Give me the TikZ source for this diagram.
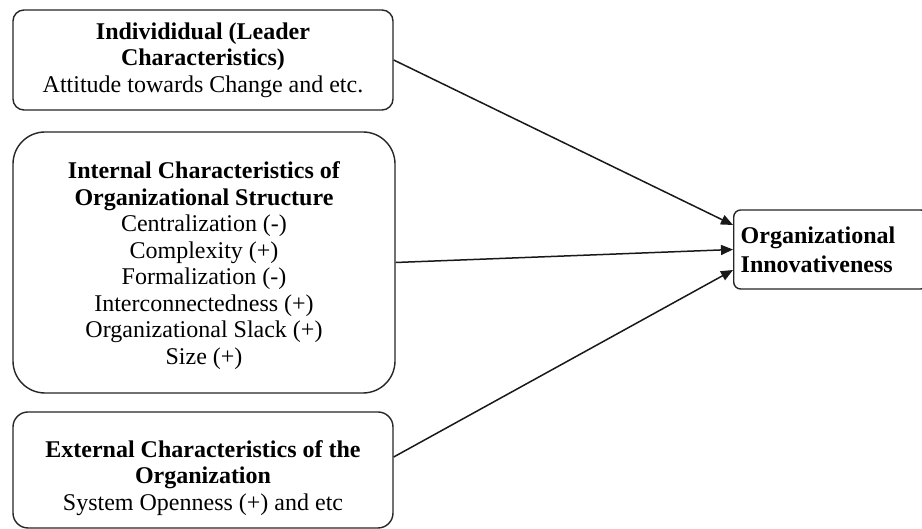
\documentclass[tikz,border=0pt]{standalone}
\usepackage{fontspec}
\setmainfont{Liberation Serif}
\usetikzlibrary{arrows.meta,calc}

\begin{document}
\begin{tikzpicture}[x=1pt,y=1pt,
  factor/.style={draw=black!85, line width=1.4pt, align=center, inner sep=0pt,
    font=\fontsize{24}{26.5}\selectfont},
  outcome/.style={draw=black!85, line width=1.4pt, rounded corners=7pt,
    align=left, text width=180pt, inner xsep=7pt, inner ysep=0pt,
    minimum height=79pt, anchor=west, font=\fontsize{24}{29}\selectfont\bfseries},
  link/.style={draw=black!90, line width=1.5pt,
    -{Triangle[length=12pt,width=10pt]}}]
\useasboundingbox (0,0) rectangle (922,529);
\clip (0,0) rectangle (922,529);
\fill[white] (0,0) rectangle (922,529);

% determinant boxes
\node[factor, rounded corners=11pt, minimum width=380pt, minimum height=100pt]
  (ind) at (203,469)
  {\textbf{Individidual (Leader}\\ \textbf{Characteristics)}\\ Attitude towards Change and etc.};

\node[factor, rounded corners=32pt, minimum width=382pt, minimum height=261pt]
  (intl) at (204,266.5) {};
\node[factor, draw=none] (intltext) at ($(intl.center)+(0,-3)$)
  {\textbf{Internal Characteristics of}\\ \textbf{Organizational Structure}\\
   Centralization (-)\\ Complexity (+)\\ Formalization (-)\\
   Interconnectedness (+)\\ Organizational Slack (+)\\ Size (+)};

\node[factor, rounded corners=15pt, minimum width=380pt, minimum height=116pt]
  (ext) at (203,59) {};
\node[factor, draw=none] (exttext) at ($(ext.center)+(0,-8)$)
  {\textbf{External Characteristics of the}\\ \textbf{Organization}\\ System Openness (+) and etc};

% outcome box
\node[outcome] (org) at (733,279.5) {Organizational\\ Innovativeness};

% links
\draw[link] (ind.east) -- ($(org.west)+(0,24.5)$);
\draw[link] (intl.east) -- (org.west);
\draw[link] ($(ext.east)+(0,13)$) -- ($(org.west)+(0,-20.5)$);
\end{tikzpicture}
\end{document}
